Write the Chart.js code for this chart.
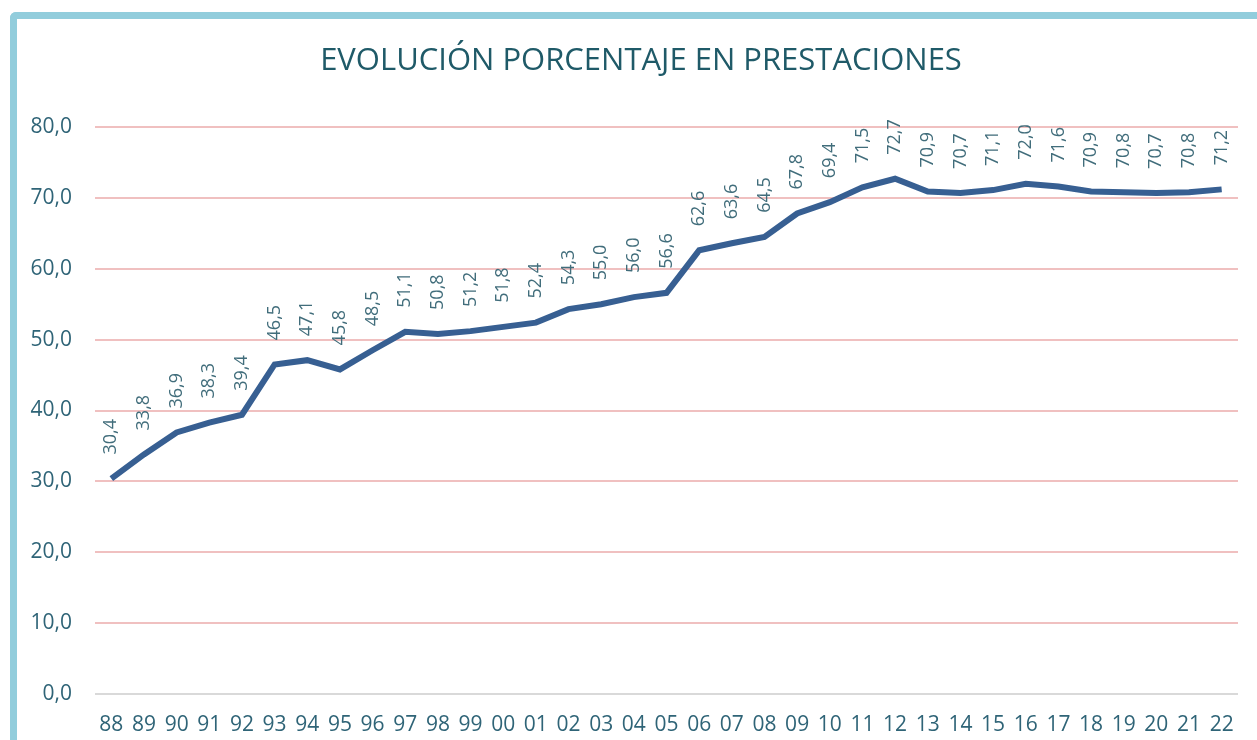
<!DOCTYPE html>
<html>
<head>
<meta charset="utf-8">
<script src="https://cdn.jsdelivr.net/npm/chart.js@4.4.1/dist/chart.umd.min.js"></script>
<style>
  html, body { margin: 0; padding: 0; background: #fff; overflow: hidden; }
  #wrap { position: relative; width: 1257px; height: 740px; }
  #frame {
    position: absolute; left: 10px; top: 12px; width: 1300px; height: 800px;
    border-top: 7px solid #92CDDC; border-left: 7px solid #92CDDC;
    border-top-left-radius: 6px; box-sizing: border-box;
  }
  canvas { position: absolute; left: 0; top: 0; }
</style>
</head>
<body>
<div id="wrap">
  <div id="frame"></div>
  <canvas id="chart" width="1257" height="740"></canvas>
</div>
<script>
// Data
const years = ['88', '89', '90', '91', '92', '93', '94', '95', '96', '97', '98', '99', '00', '01', '02', '03', '04', '05',
  '06', '07', '08', '09', '10', '11', '12', '13', '14', '15', '16', '17', '18', '19', '20', '21', '22']
const porcentaje = [30.4, 33.8, 36.9, 38.3, 39.4, 46.5, 47.1, 45.8, 48.5, 51.1, 50.8, 51.2, 51.8, 52.4, 54.3, 55.0, 56.0, 56.6,
  62.6, 63.6, 64.5, 67.8, 69.4, 71.5, 72.7, 70.9, 70.7, 71.1, 72.0, 71.6, 70.9, 70.8, 70.7, 70.8, 71.2]
const yTicks = [0, 10, 20, 30, 40, 50, 60, 70, 80]
const titulo = 'EVOLUCIÓN PORCENTAJE EN PRESTACIONES'

const fmt = v => v.toFixed(1).replace('.', ',')
const FONT = "'Open Sans', 'Noto Sans', sans-serif"

// title + vertical value labels above each point
const extras = {
  id: 'extras',
  afterDatasetsDraw(chart) {
    const ctx = chart.ctx
    const meta = chart.getDatasetMeta(0)
    ctx.save()
    ctx.font = '31px ' + FONT
    ctx.fillStyle = '#1F5A68'
    ctx.textAlign = 'center'
    ctx.textBaseline = 'middle'
    ctx.fillText(titulo, 641, 61)

    ctx.font = '18px ' + FONT
    ctx.fillStyle = '#416D7B'
    ctx.textAlign = 'left'
    meta.data.forEach((pt, i) => {
      ctx.save()
      ctx.translate(pt.x, pt.y - 24)
      ctx.rotate(-Math.PI / 2)
      ctx.fillText(fmt(porcentaje[i]), 0, 0)
      ctx.restore()
    })
    ctx.restore()
  }
}

const chart = new Chart(document.getElementById('chart'), {
  type: 'line',
  data: {
    labels: years,
    datasets: [{
      data: porcentaje,
      borderColor: '#375F92',
      borderWidth: 6,
      pointRadius: 0,
      tension: 0,
      fill: false
    }]
  },
  options: {
    responsive: false,
    animation: false,
    layout: { padding: { left: 0, right: 19, top: 127, bottom: 0 } },
    plugins: {
      legend: { display: false },
      tooltip: { enabled: false },
      title: { display: false }
    },
    scales: {
      x: {
        offset: true,
        afterFit(scale) { scale.height = 46 },
        grid: { display: false, drawTicks: false },
        border: { display: false },
        ticks: { color: '#2F6477', font: { family: FONT, size: 21 }, padding: 18, maxRotation: 0, autoSkip: false }
      },
      y: {
        min: 0,
        max: 80,
        afterFit(scale) { scale.width = 95 },
        afterBuildTicks(scale) { scale.ticks = yTicks.map(v => ({ value: v })) },
        grid: {
          drawTicks: false,
          lineWidth: 2,
          color: ctx => ctx.tick && ctx.tick.value === 0 ? '#D9D9D9' : '#F0C0C0'
        },
        border: { display: false },
        ticks: { color: '#2F6477', font: { family: FONT, size: 21 }, padding: 23, callback: v => fmt(v) }
      }
    }
  },
  plugins: [extras]
})
</script>
</body>
</html>
